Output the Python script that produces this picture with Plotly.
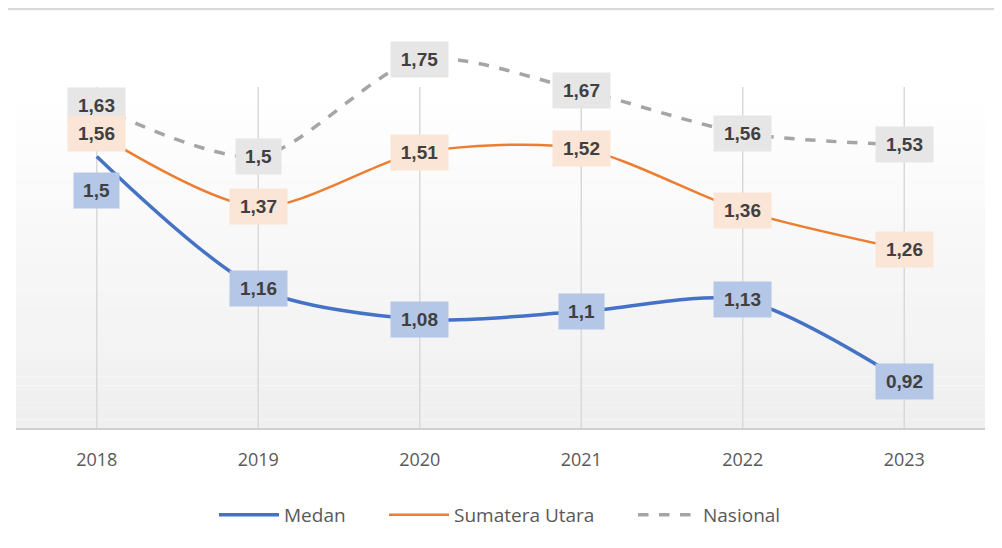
import plotly.graph_objects as go

years = ["2018", "2019", "2020", "2021", "2022", "2023"]
medan = [1.5, 1.16, 1.08, 1.1, 1.13, 0.92]
sumut = [1.56, 1.37, 1.51, 1.52, 1.36, 1.26]
nasional = [1.63, 1.5, 1.75, 1.67, 1.56, 1.53]

series = [
    ("Medan", medan, "#4472C4", 3.5, "solid", "#B4C7E7", "legend"),
    ("Sumatera Utara", sumut, "#ED7D31", 2.5, "solid", "#FBE5D6", "legend2"),
    ("Nasional", nasional, "#A5A5A5", 3.5, "dash", "#E7E6E6", "legend3"),
]

# page has an 8px body margin; figure laid out to compensate
PLOT_H = 420
PLOT_W = 969
Y0 = 0.8
Y1 = Y0 + PLOT_H / 388.0

fig = go.Figure()

for name, vals, col, w, dash, _, lg in series:
    fig.add_trace(go.Scatter(
        x=years, y=vals, name=name, mode="lines", legend=lg,
        line=dict(color=col, width=w, dash=dash, shape="spline", smoothing=0.8),
        cliponaxis=False,
    ))

shapes = []
# gradient background of plot area
grad_top = (PLOT_H - 79) / PLOT_H
n = 40
for i in range(n):
    t = i / (n - 1)
    c = int(round(255 - t * (255 - 239)))
    shapes.append(dict(type="rect", xref="paper", yref="paper",
                       x0=0, x1=1, y0=grad_top * (1 - (i + 1) / n), y1=grad_top * (1 - i / n),
                       fillcolor=f"rgb({c},{c},{c})", line=dict(width=0), layer="below"))
# vertical gridlines (category index positions)
for idx, _ in enumerate(years):
    shapes.append(dict(type="line", xref="x", yref="paper", x0=idx, x1=idx, y0=0, y1=grad_top,
                       line=dict(color="#D9D9D9", width=1.5), layer="below"))
# top border fragment
shapes.append(dict(type="line", xref="paper", yref="paper", x0=-0.0103, x1=1.05,
                   y0=1 - 1.0 / PLOT_H, y1=1 - 1.0 / PLOT_H, line=dict(color="#D9D9D9", width=2.5)))

annotations = []
label_font = dict(family="Liberation Sans, Arial, sans-serif", size=19, color="#404040")
for name, vals, col, w, dash, bg, lg in reversed(series):
    for idx, v in enumerate(vals):
        txt = f"{v:g}".replace(".", ",")
        yshift = -34 if (name == "Medan" and idx == 0) else 0
        annotations.append(dict(
            x=idx, y=v, xref="x", yref="y", text=f"<b>{txt}</b>", showarrow=False,
            font=label_font, bgcolor=bg, borderpad=7, width=12 * len(txt) - 5,
            yshift=yshift, xanchor="center", yanchor="middle",
        ))

leg_font = dict(family="Open Sans, Liberation Sans, sans-serif", size=19, color="#595959")
leg_y = -0.207


def leg(page_x):
    return dict(orientation="h", xanchor="left", x=(page_x - 16) / PLOT_W,
                yanchor="middle", y=leg_y, font=leg_font, itemwidth=60,
                bgcolor="rgba(0,0,0,0)")


fig.update_layout(
    width=994, height=540,
    margin=dict(l=8, r=17, t=0, b=120, autoexpand=False),
    paper_bgcolor="white", plot_bgcolor="rgba(0,0,0,0)",
    shapes=shapes, annotations=annotations,
    showlegend=True,
    legend=leg(214), legend2=leg(384), legend3=leg(633),
    xaxis=dict(type="category", range=[-0.5, 5.5], showgrid=False, zeroline=False,
               showline=True, linecolor="#D0D0D0", linewidth=2, ticks="",
               tickfont=dict(family="Open Sans, Liberation Sans, sans-serif", size=18, color="#595959"),
               ticklabelstandoff=14),
    yaxis=dict(range=[Y0, Y1], visible=False, showgrid=False, zeroline=False),
)

fig.write_html("out.html")
